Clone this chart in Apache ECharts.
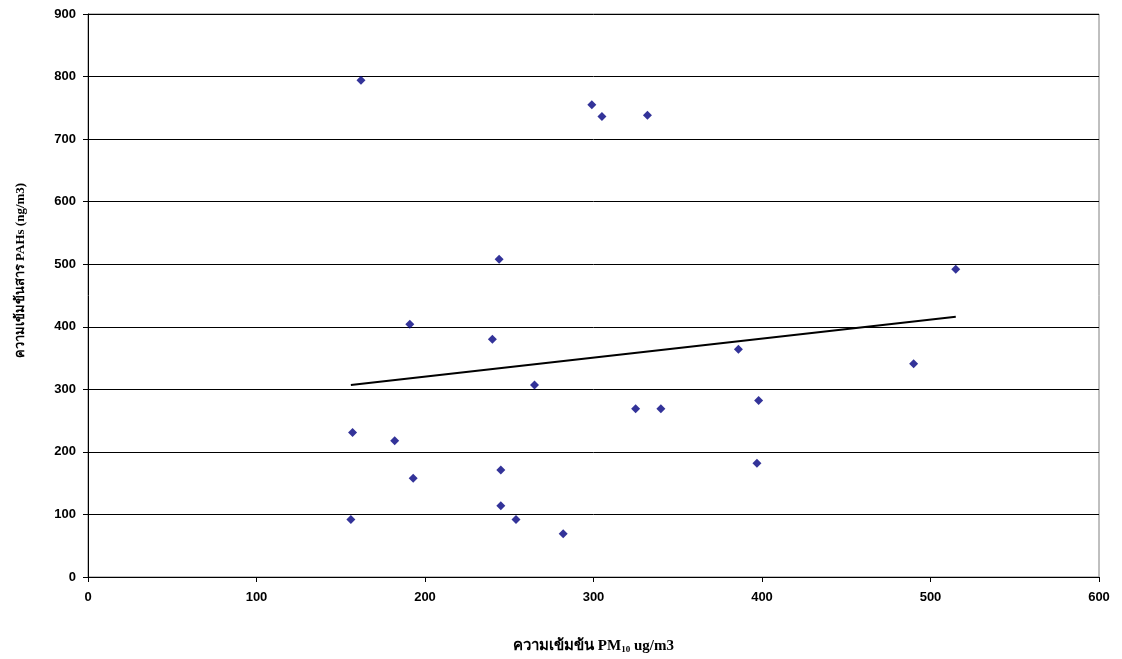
<!DOCTYPE html>
<html>
<head>
<meta charset="utf-8">
<script src="https://cdn.jsdelivr.net/npm/echarts@6/dist/echarts.min.js"></script>
<style>
  html, body { margin: 0; padding: 0; background: #fff; }
  #chart { width: 1122px; height: 659px; }
</style>
</head>
<body>
<div id="chart"></div>
<script>
// PM10 (ug/m3) vs PAHs (ng/m3)
var pm10 = [162, 299, 305, 332, 244, 191, 157, 182, 156, 240, 386, 265, 325, 340, 398, 193, 245, 397, 245, 254, 282, 515, 490];
var pahs = [794, 755, 736, 738, 508, 404, 231, 218, 92, 380, 364, 307, 269, 269, 282, 158, 171, 182, 114, 92, 69, 492, 341];

// linear trend line at its two ends
var trendX = [156, 515];
var trendY = [307, 416];

var xTicks = [0, 100, 200, 300, 400, 500, 600];
var yTicks = [0, 100, 200, 300, 400, 500, 600, 700, 800, 900];

function ChartLoad() {
    var chart = echarts.init(document.getElementById('chart'));

    var points = pm10.map(function (x, i) { return [x, pahs[i]]; });
    var trend = trendX.map(function (x, i) { return [x, trendY[i]]; });

    var labelFont = {
        color: '#000',
        fontFamily: 'Liberation Sans, Arial, sans-serif',
        fontWeight: 'bold',
        fontSize: 13
    };

    var option = {
        animation: false,
        backgroundColor: '#fff',
        grid: {
            left: 88,
            right: 23,
            top: 14,
            bottom: 79,
            show: true,
            borderColor: '#808080',
            borderWidth: 1
        },
        xAxis: {
            type: 'value',
            min: xTicks[0],
            max: xTicks[xTicks.length - 1],
            interval: 100,
            name: '{main|ความเข้มข้น PM}{sub|10}{main| ug/m3}',
            nameLocation: 'middle',
            nameGap: 62,
            nameTextStyle: {
                rich: {
                    main: { fontFamily: 'Liberation Serif, Times New Roman, serif', fontWeight: 'bold', fontSize: 15, color: '#000' },
                    sub: { fontFamily: 'Liberation Serif, Times New Roman, serif', fontWeight: 'bold', fontSize: 9, color: '#000', padding: [6, 0, 0, 0] }
                }
            },
            axisLine: { lineStyle: { color: '#000', width: 1 } },
            axisTick: { show: true, inside: false, length: 5, lineStyle: { color: '#000' } },
            axisLabel: Object.assign({ margin: 14 }, labelFont),
            splitLine: { show: false }
        },
        yAxis: {
            type: 'value',
            min: yTicks[0],
            max: yTicks[yTicks.length - 1],
            interval: 100,
            name: 'ความเข้มข้นสาร PAHs (ng/m3)',
            nameLocation: 'middle',
            nameGap: 61,
            nameTextStyle: {
                fontFamily: 'Liberation Serif, Times New Roman, serif',
                fontWeight: 'bold',
                fontSize: 13,
                color: '#000',
                padding: [0, 0, 0, 50]
            },
            axisLine: { show: true, lineStyle: { color: '#000', width: 1 } },
            axisTick: { show: true, inside: false, length: 5, lineStyle: { color: '#000' } },
            axisLabel: Object.assign({ margin: 12 }, labelFont),
            splitLine: { show: true, lineStyle: { color: '#000', width: 1 } }
        },
        series: [
            {
                name: 'PAHs',
                type: 'scatter',
                data: points,
                symbol: 'diamond',
                symbolSize: 9,
                itemStyle: { color: '#000080' },
                z: 3
            },
            {
                name: 'Linear',
                type: 'line',
                data: trend,
                showSymbol: false,
                symbol: 'none',
                lineStyle: { color: '#000', width: 2 },
                z: 2
            }
        ]
    };

    chart.setOption(option, true);
}

ChartLoad();
</script>
</body>
</html>
